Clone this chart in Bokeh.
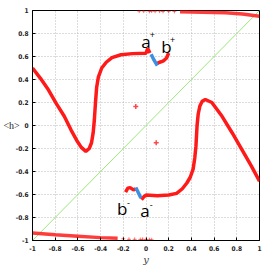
from bokeh.plotting import figure
from bokeh.models import Range1d, FixedTicker
from bokeh.embed import file_html
from bokeh.resources import INLINE
from bokeh.core.properties import value

# ---- data ----
ticks = [-1, -0.8, -0.6, -0.4, -0.2, 0, 0.2, 0.4, 0.6, 0.8, 1]
tick_labels = ["-1", "-0.8", "-0.6", "-0.4", "-0.2", "0", "0.2", "0.4", "0.6", "0.8", "1"]

# upper branch: left curve, plateau, a+ bump
upper_x = [-1.0, -0.93, -0.86, -0.79, -0.72, -0.66, -0.61, -0.57, -0.53, -0.5, -0.48, -0.465,
           -0.455, -0.445, -0.435, -0.42, -0.39, -0.35, -0.3, -0.22, -0.12, 0.0, 0.015, 0.035]
upper_y = [0.5, 0.41, 0.31, 0.19, 0.08, -0.04, -0.13, -0.19, -0.225, -0.2, -0.15, -0.06,
           0.05, 0.2, 0.33, 0.42, 0.5, 0.55, 0.59, 0.615, 0.625, 0.628, 0.67, 0.63]
blue_top_x = [0.045, 0.07, 0.1]
blue_top_y = [0.62, 0.57, 0.52]
bplus_x = [0.1, 0.12, 0.15, 0.18, 0.2]
bplus_y = [0.54, 0.55, 0.56, 0.585, 0.63]

# lower branch: b-, a-, plateau, right curve
bminus_x = [-0.18, -0.16, -0.14, -0.11, -0.09]
bminus_y = [-0.58, -0.545, -0.54, -0.56, -0.55]
blue_bot_x = [-0.09, -0.065, -0.045]
blue_bot_y = [-0.54, -0.59, -0.63]
lower_x = [-0.04, -0.02, 0.0, 0.1, 0.2, 0.27, 0.32, 0.36, 0.39, 0.415, 0.43, 0.44, 0.45, 0.46,
           0.475, 0.495, 0.523, 0.58, 0.67, 0.76, 0.845, 0.93, 1.0]
lower_y = [-0.645, -0.62, -0.605, -0.61, -0.605, -0.59, -0.55, -0.5, -0.45, -0.38, -0.28, -0.18,
           0.0, 0.1, 0.17, 0.21, 0.226, 0.2, 0.08, -0.065, -0.21, -0.355, -0.485]

# bands near +-1
top_band_x = [0.3, 0.5, 0.7, 0.85, 1.0]
top_band_y = [0.99, 0.985, 0.98, 0.97, 0.95]
top_sparse_x = [-0.06, -0.02, 0.03, 0.05, 0.08, 0.12, 0.15, 0.2, 0.25]
top_sparse_y = [0.995, 0.995, 0.993, 0.995, 0.994, 0.995, 0.992, 0.993, 0.992]
bot_band_x = [-1.0, -0.8, -0.6, -0.4, -0.25]
bot_band_y = [-0.935, -0.95, -0.962, -0.975, -0.98]
bot_sparse_x = [-0.2, -0.15, -0.1, -0.05, -0.03, 0.0, 0.03, 0.05]
bot_sparse_y = [-0.985, -0.99, -0.99, -0.992, -0.99, -0.992, -0.993, -0.994]

stray_x = [-0.09, 0.09]
stray_y = [0.165, -0.15]

diag_x = [-1, 1]
diag_y = [-1, 1]

lab_text = ["a", "b", "b", "a"]
lab_x = [0.0, 0.18, -0.21, -0.01]
lab_y = [0.73, 0.69, -0.72, -0.74]
sup_text = ["+", "+", "-", "-"]
sup_x = [0.055, 0.235, -0.155, 0.045]
sup_y = [0.79, 0.75, -0.67, -0.69]

RED = "#ff1a1a"
BLUE = "#3f8fe0"

p = figure(width=268, height=270, output_backend="svg", toolbar_location=None,
           x_range=Range1d(-1, 1), y_range=Range1d(-1, 1),
           min_border_left=31, min_border_right=9, min_border_top=10, min_border_bottom=30)
p.background_fill_color = "white"
p.outline_line_color = "black"
p.outline_line_width = 1

for ax in (p.xaxis[0], p.yaxis[0]):
    ax.ticker = FixedTicker(ticks=ticks)
    ax.major_label_overrides = {t: l for t, l in zip(ticks, tick_labels)}
    ax.major_tick_in = 3
    ax.major_tick_out = 0
    ax.minor_tick_in = 0
    ax.minor_tick_out = 0
    ax.major_label_text_font = "DejaVu Sans Condensed"
    ax.major_label_text_font_style = "bold"
    ax.major_label_text_font_size = "6.5px"
    ax.major_label_text_color = "#222222"
    ax.axis_line_color = "black"

p.xaxis.major_label_standoff = 5
p.yaxis.major_label_standoff = 4
p.xaxis.axis_label = "y"
p.xaxis.axis_label_text_font = "DejaVu Serif"
p.xaxis.axis_label_text_font_style = "italic"
p.xaxis.axis_label_text_font_size = "10px"
p.xaxis.axis_label_standoff = 0

p.yaxis.axis_label = "<h>"
p.yaxis.axis_label_orientation = "horizontal"
p.yaxis.axis_label_text_font = "Liberation Serif"
p.yaxis.axis_label_text_font_style = "normal"
p.yaxis.axis_label_text_font_size = "10px"
p.yaxis.axis_label_text_color = "#222222"
p.yaxis.axis_label_standoff = -7

p.xgrid.ticker = FixedTicker(ticks=ticks)
p.ygrid.ticker = FixedTicker(ticks=ticks)
p.grid.grid_line_color = "#b8b8b8"
p.grid.grid_line_dash = "1 2"
p.grid.grid_line_width = 1

p.line(diag_x, diag_y, line_color="#9be87a", line_width=1)

p.line(top_band_x, top_band_y, line_color=RED, line_width=3.5, line_alpha=0.85)
p.scatter(top_sparse_x, top_sparse_y, marker="cross", size=4, line_color=RED, line_width=1, line_alpha=0.6)
p.line(bot_band_x, bot_band_y, line_color=RED, line_width=3.5, line_alpha=0.85)
p.scatter(bot_sparse_x, bot_sparse_y, marker="cross", size=4, line_color=RED, line_width=1, line_alpha=0.6)

p.line(upper_x, upper_y, line_color=RED, line_width=3.5)
p.line(bplus_x, bplus_y, line_color=RED, line_width=3.5)
p.line(bminus_x, bminus_y, line_color=RED, line_width=3.5)
p.line(lower_x, lower_y, line_color=RED, line_width=3.5)
p.line(blue_top_x, blue_top_y, line_color=BLUE, line_width=3.5)
p.line(blue_bot_x, blue_bot_y, line_color=BLUE, line_width=3.5)

p.scatter(stray_x, stray_y, marker="cross", size=5, line_color=RED, line_width=1.5, line_alpha=0.8)

p.text(lab_x, lab_y, text=lab_text, text_font=value("Open Sans"), text_font_size="17px",
       text_align="center", text_baseline="middle", text_color="black")
p.text(sup_x, sup_y, text=sup_text, text_font=value("Open Sans"), text_font_size="9px",
       text_align="center", text_baseline="middle", text_color="black")

open("out.html", "w").write(file_html(p, INLINE))
